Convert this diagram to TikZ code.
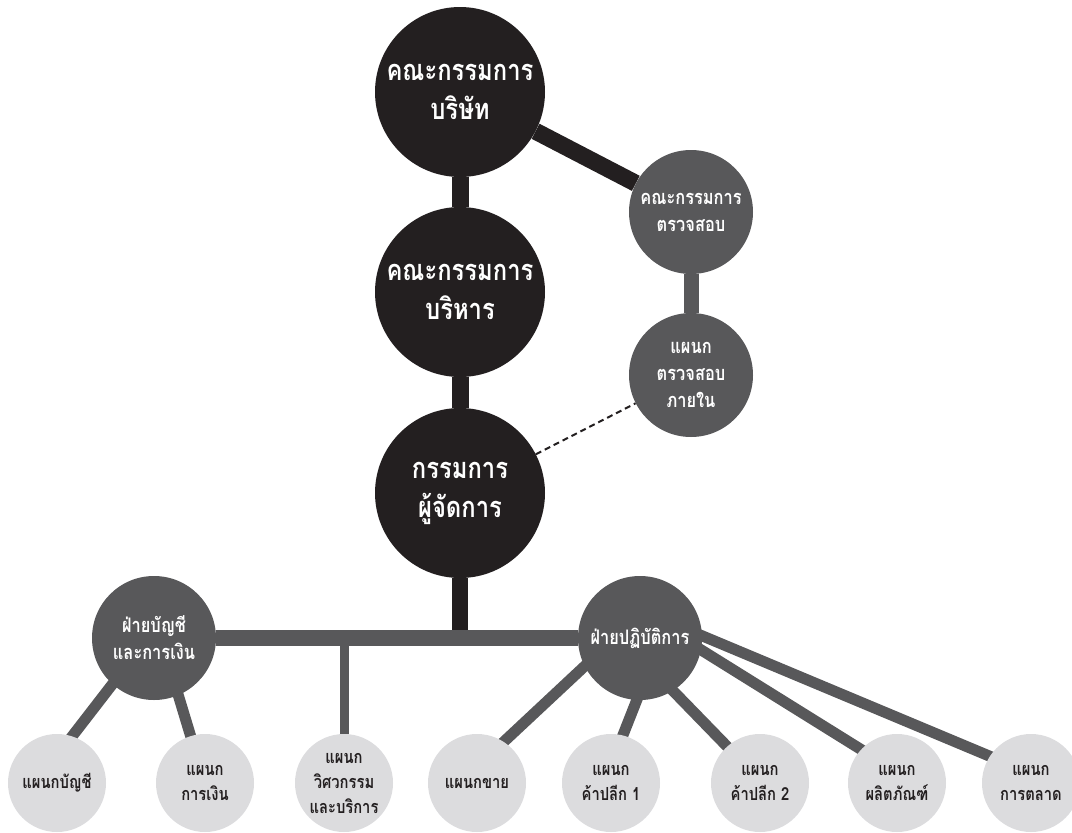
\documentclass[tikz,border=0pt]{standalone}
\usepackage{fontspec}
\newfontfamily\thai[Script=Thai,FakeStretch=0.82]{Loma}
\usetikzlibrary{backgrounds}
\definecolor{cdark}{HTML}{231F20}
\definecolor{cgray}{HTML}{58585A}
\definecolor{clight}{HTML}{DCDCDE}
\begin{document}
\begin{tikzpicture}[x=1pt,y=-1pt,
  bignode/.style={circle,fill=cdark,minimum size=170pt,inner sep=0pt,text=white,align=center,font=\fontsize{29}{39}\thai\bfseries},
  midnode/.style={circle,fill=cgray,minimum size=124pt,inner sep=0pt,text=white,align=center,font=\fontsize{20}{27}\thai\bfseries},
  leafnode/.style={circle,fill=clight,minimum size=98pt,inner sep=0pt,text=cdark,align=center,font=\fontsize{18}{25}\thai\bfseries},
  blackline/.style={draw=cdark,line width=17pt},
  grayline/.style={draw=cgray,line width=15pt},
  leafline/.style={draw=cgray,line width=11pt,shorten <=-6pt,shorten >=-6pt},
  dashline/.style={draw=cdark,line width=2pt,dash pattern=on 6pt off 4pt}
]
\useasboundingbox (0,0) rectangle (1072,833);
\node[bignode] (board) at (460,92) {คณะกรรมการ\\บริษัท};
\node[bignode] (exec) at (460,292) {คณะกรรมการ\\บริหาร};
\node[bignode] (md) at (460,493) {กรรมการ\\ผู้จัดการ};
\node[midnode] (ac) at (691,212) {คณะกรรมการ\\ตรวจสอบ};
\node[midnode] (ia) at (691,375) {แผนก\\ตรวจสอบ\\ภายใน};
\node[midnode] (fin) at (154,638) {ฝ่ายบัญชี\\และการเงิน};
\node[midnode] (ops) at (640,638) {ฝ่ายปฏิบัติการ};
\node[leafnode] (acc) at (57,783) {แผนกบัญชี};
\node[leafnode] (money) at (205,783) {แผนก\\การเงิน};
\node[leafnode] (eng) at (344,783) {แผนก\\วิศวกรรม\\และบริการ};
\node[leafnode] (sales) at (477,783) {แผนกขาย};
\node[leafnode] (ret1) at (611,783) {แผนก\\ค้าปลีก 1};
\node[leafnode] (ret2) at (760,783) {แผนก\\ค้าปลีก 2};
\node[leafnode] (prod) at (897,783) {แผนก\\ผลิตภัณฑ์};
\node[leafnode] (mkt) at (1031,783) {แผนก\\การตลาด};
\begin{scope}[on background layer]
  \draw[blackline] (board) -- (exec);
  \draw[blackline] (exec) -- (md);
  \draw[blackline] (board) -- (ac);
  \draw[grayline] (ac) -- (ia);
  \draw[blackline,line width=16pt] (md) -- (md |- fin);
  \draw[grayline,line width=16pt] (fin) -- (ops);
  \draw[draw=cgray,line width=9pt] (eng |- fin) -- (eng);
  \draw[leafline] (fin.-132) -- (acc.72);
  \draw[leafline] (fin.-67) -- (money.107);
  \draw[leafline] (ops.-153) -- (sales.57);
  \draw[leafline] (ops.-93) -- (ret1.76);
  \draw[leafline] (ops.-58) -- (ret2.132);
  \draw[leafline] (ops.-11) -- (prod.137);
  \draw[leafline] (ops.2) -- (mkt.147);
\end{scope}
\draw[dashline] (md) -- (ia);
\end{tikzpicture}
\end{document}
